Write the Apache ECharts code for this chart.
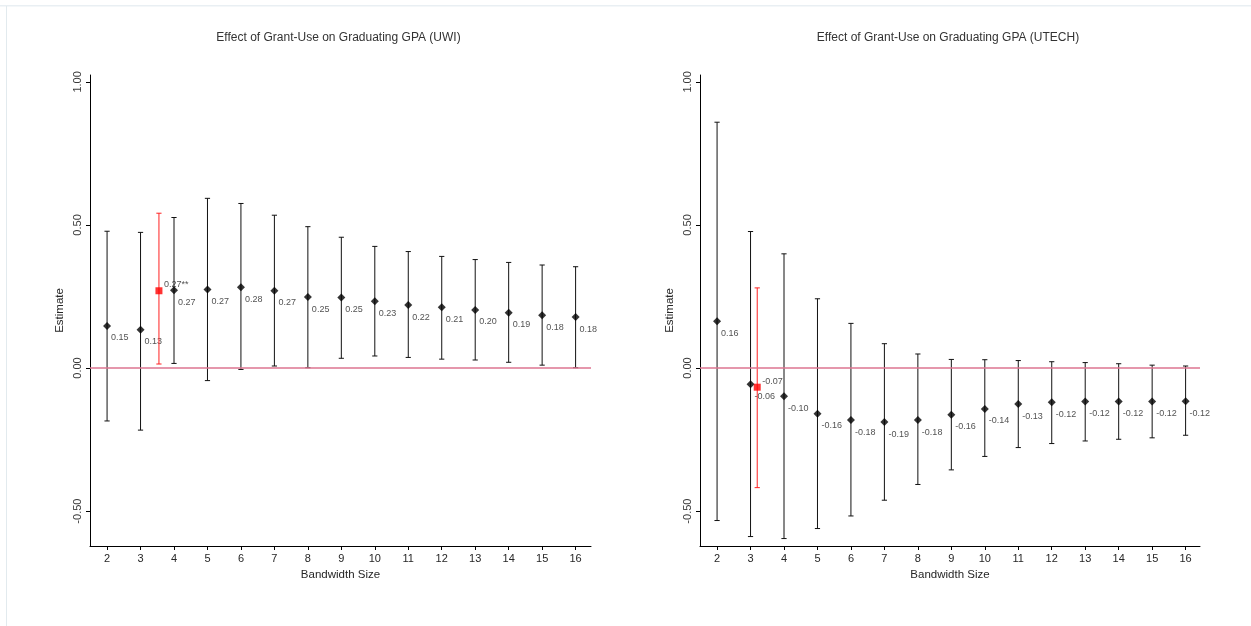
<!DOCTYPE html>
<html>
<head>
<meta charset="utf-8">
<script src="https://cdn.jsdelivr.net/npm/echarts@6/dist/echarts.min.js"></script>
<style>
  html, body { margin: 0; padding: 0; background: #ffffff; }
  #chart { width: 1251px; height: 626px; }
</style>
</head>
<body>
<div id="chart"></div>
<script>
// Bandwidth sizes on the x axis
const bandwidths = [2, 3, 4, 5, 6, 7, 8, 9, 10, 11, 12, 13, 14, 15, 16];

// UWI: point estimates and confidence bounds per bandwidth
const uwiEst = [0.147, 0.134, 0.272, 0.274, 0.282, 0.270, 0.248, 0.246, 0.233, 0.220, 0.212, 0.203, 0.193, 0.184, 0.178];
const uwiLow = [-0.185, -0.217, 0.016, -0.044, -0.005, 0.007, 0.001, 0.034, 0.042, 0.037, 0.031, 0.028, 0.020, 0.010, 0.001];
const uwiHigh = [0.478, 0.474, 0.526, 0.593, 0.575, 0.534, 0.494, 0.457, 0.425, 0.407, 0.390, 0.379, 0.369, 0.360, 0.354];

// UTECH: point estimates and confidence bounds per bandwidth
const utechEst = [0.163, -0.057, -0.099, -0.160, -0.182, -0.189, -0.182, -0.163, -0.143, -0.126, -0.120, -0.117, -0.117, -0.117, -0.116];
const utechLow = [-0.533, -0.589, -0.596, -0.561, -0.517, -0.462, -0.407, -0.356, -0.309, -0.278, -0.264, -0.255, -0.249, -0.244, -0.235];
const utechHigh = [0.859, 0.477, 0.399, 0.242, 0.156, 0.085, 0.049, 0.030, 0.029, 0.026, 0.022, 0.019, 0.015, 0.010, 0.007];

// Optimal-bandwidth estimates (highlighted in red): [UWI, UTECH]
const optX = [3.55, 3.2];
const optEst = [0.270, -0.067];
const optLow = [0.014, -0.418];
const optHigh = [0.541, 0.280];
const optStars = ['**', ''];

// Axis ticks and text
const yTicks = [-0.5, 0, 0.5, 1];
const titles = ['Effect of Grant-Use on Graduating GPA (UWI)', 'Effect of Grant-Use on Graduating GPA (UTECH)'];
const xName = 'Bandwidth Size';
const yName = 'Estimate';

const FONT = '"Liberation Sans", Arial, sans-serif';
const TEXT = '#262626';

function errorBarItem(color) {
  return function (params, api) {
    const x = api.value(0);
    const lo = api.coord([x, api.value(1)]);
    const hi = api.coord([x, api.value(2)]);
    const cap = 2.6;
    const style = { stroke: color, lineWidth: 1 };
    return {
      type: 'group',
      children: [
        { type: 'line', shape: { x1: lo[0], y1: lo[1], x2: hi[0], y2: hi[1] }, style: style },
        { type: 'line', shape: { x1: hi[0] - cap, y1: hi[1], x2: hi[0] + cap, y2: hi[1] }, style: style },
        { type: 'line', shape: { x1: lo[0] - cap, y1: lo[1], x2: lo[0] + cap, y2: lo[1] }, style: style }
      ]
    };
  };
}

const panels = [
  { est: uwiEst, low: uwiLow, high: uwiHigh, gridLeft: 90, gridWidth: 501, xMin: 1.49, xMax: 16.46 },
  { est: utechEst, low: utechLow, high: utechHigh, gridLeft: 700, gridWidth: 500, xMin: 1.49, xMax: 16.43 }
];

const grid = [], xAxis = [], yAxis = [], series = [], title = [];

panels.forEach(function (p, i) {
  grid.push({ left: p.gridLeft, top: 75, width: p.gridWidth, height: 471 });
  title.push({
    text: titles[i],
    left: p.gridLeft + p.gridWidth / 2 - 7,
    top: 27,
    textAlign: 'center',
    textStyle: { fontFamily: FONT, fontSize: 12, fontWeight: 'normal', color: '#333' }
  });
  xAxis.push({
    type: 'value', gridIndex: i, min: p.xMin, max: p.xMax,
    name: xName, nameLocation: 'middle', nameGap: 16,
    nameTextStyle: { fontFamily: FONT, fontSize: 11.5, color: TEXT },
    axisLine: { show: true, onZero: false, lineStyle: { color: '#000', width: 1 } },
    axisTick: { show: true, length: 4, customValues: bandwidths, lineStyle: { color: '#000' } },
    axisLabel: { customValues: bandwidths, fontFamily: FONT, fontSize: 11, color: TEXT, margin: 7 },
    splitLine: { show: false }
  });
  yAxis.push({
    type: 'value', gridIndex: i, min: -0.622, max: 1.024,
    name: yName, nameLocation: 'middle', nameGap: 24, nameRotate: 90,
    nameTextStyle: { fontFamily: FONT, fontSize: 11.5, color: TEXT },
    axisLine: { show: true, onZero: false, lineStyle: { color: '#000', width: 1 } },
    axisTick: { show: true, length: 4, customValues: yTicks, lineStyle: { color: '#000' } },
    axisLabel: {
      customValues: yTicks, rotate: 90, fontFamily: FONT, fontSize: 11, color: '#3a3a3a', margin: 7,
      formatter: function (v) { return Number(v).toFixed(2); }
    },
    splitLine: { show: false }
  });

  // Confidence intervals for each bandwidth
  series.push({
    type: 'custom', xAxisIndex: i, yAxisIndex: i,
    renderItem: errorBarItem('#111'),
    encode: { x: 0, y: [1, 2] },
    data: bandwidths.map(function (b, k) { return [b, p.low[k], p.high[k]]; }),
    z: 2
  });

  // Point estimates with value labels, plus the zero reference line
  series.push({
    type: 'scatter', xAxisIndex: i, yAxisIndex: i,
    symbol: 'diamond', symbolSize: 8,
    itemStyle: { color: '#000' },
    data: bandwidths.map(function (b, k) { return [b, p.est[k]]; }),
    label: {
      show: true, position: [8, 16], align: 'left', verticalAlign: 'middle',
      fontFamily: FONT, fontSize: 9, color: TEXT,
      formatter: function (d) { return d.value[1].toFixed(2); }
    },
    markLine: {
      silent: true, symbol: 'none', label: { show: false },
      lineStyle: { color: '#dc7590', width: 1.5, type: 'solid' },
      data: [{ yAxis: 0 }]
    },
    z: 3
  });

  // Optimal-bandwidth interval in red
  series.push({
    type: 'custom', xAxisIndex: i, yAxisIndex: i,
    renderItem: errorBarItem('#ff2020'),
    encode: { x: 0, y: [1, 2] },
    data: [[optX[i], optLow[i], optHigh[i]]],
    z: 4
  });
  series.push({
    type: 'scatter', xAxisIndex: i, yAxisIndex: i,
    symbol: 'rect', symbolSize: 7,
    itemStyle: { color: '#ff0000' },
    data: [[optX[i], optEst[i]]],
    label: {
      show: true, position: [8.5, -2.5], align: 'left', verticalAlign: 'middle',
      fontFamily: FONT, fontSize: 9, color: TEXT,
      formatter: function (d) { return d.value[1].toFixed(2) + optStars[i]; }
    },
    z: 5
  });
});

const chart = echarts.init(document.getElementById('chart'), null, { renderer: 'canvas' });
chart.setOption({
  animation: false,
  backgroundColor: '#ffffff',
  title: title,
  grid: grid,
  xAxis: xAxis,
  yAxis: yAxis,
  series: series,
  graphic: [
    { type: 'rect', shape: { x: 0, y: 5, width: 1251, height: 1.5 }, style: { fill: '#e9eff3' }, silent: true },
    { type: 'rect', shape: { x: 6, y: 6, width: 1, height: 620 }, style: { fill: '#e2eaee' }, silent: true }
  ]
});
</script>
</body>
</html>
